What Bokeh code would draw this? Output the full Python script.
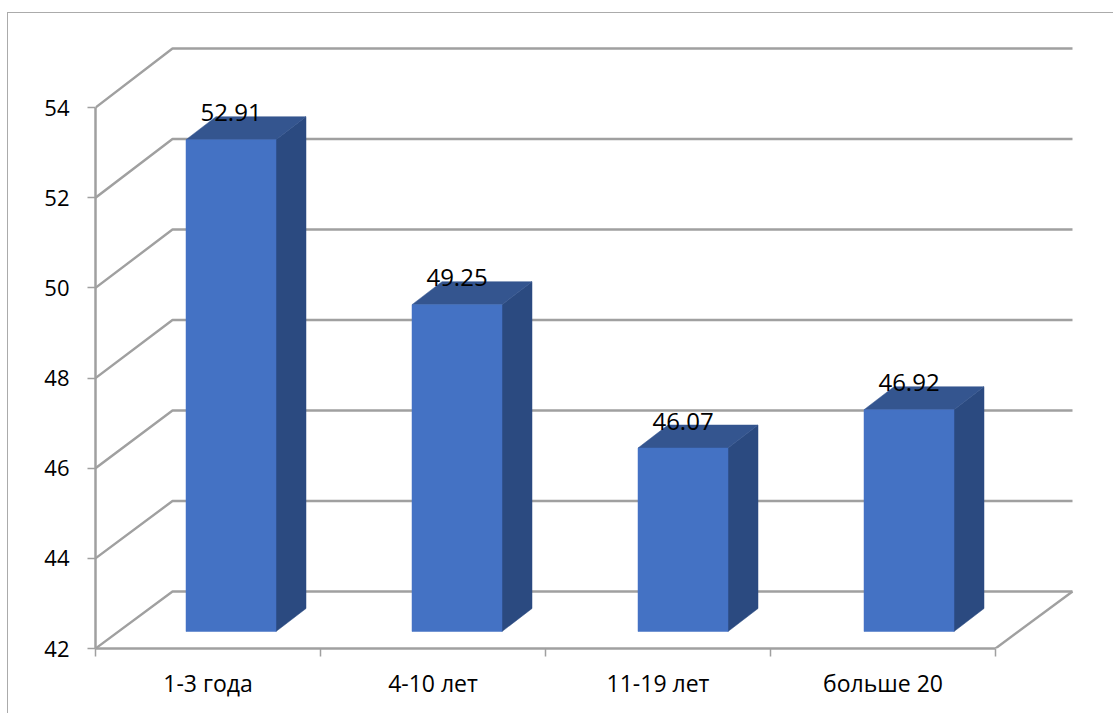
from bokeh.embed import file_html
from bokeh.models import ColumnDataSource, FixedTicker, Range1d
from bokeh.plotting import figure
from bokeh.core.properties import value
from bokeh.resources import INLINE

# Survey values by length-of-service group
categories = ["1-3 года", "4-10 лет", "11-19 лет", "больше 20"]
values = [52.91, 49.25, 46.07, 46.92]
y_ticks = [42, 44, 46, 48, 50, 52, 54]

FONT = "Open Sans"
GRID = "#A0A0A0"
FRONT = "#4472C4"
TOP = "#34558F"
SIDE = "#2B4A80"

# Oblique projection: how far the back wall sits from the front plane
PX_PER_CAT = 225.0
PX_PER_UNIT = 45.08
DEPTH_X = 77 / PX_PER_CAT
DEPTH_Y = 57 / PX_PER_UNIT
WALL_SCALE = 1.0037     # the back wall is drawn very slightly taller than the front plane
BAR_NEAR_Y = 17 / PX_PER_UNIT
BAR_NEAR_X = 23 / PX_PER_CAT
BAR_SHIFT_X = 30 / PX_PER_CAT
BAR_SHIFT_Y = 23 / PX_PER_UNIT
BAR_WIDTH = 90 / PX_PER_CAT
BAR_STEP = 226 / PX_PER_CAT
Y_MIN = y_ticks[0]

WIDTH, HEIGHT = 1113, 713
LEFT, BOTTOM = 95, 65

p = figure(
    width=WIDTH, height=HEIGHT, output_backend="svg", toolbar_location=None,
    x_range=Range1d(0, (WIDTH - LEFT) / PX_PER_CAT),
    y_range=Range1d(Y_MIN, Y_MIN + (HEIGHT - BOTTOM) / PX_PER_UNIT),
    min_border_left=LEFT, min_border_bottom=BOTTOM, min_border_top=0, min_border_right=0,
    outline_line_color=None, background_fill_color="white", border_fill_color="white",
)
p.grid.visible = False

# Chart-area border: only its left and top edges fall inside the page
p.stylesheets = [
    ":host::after{content:'';position:absolute;left:7px;top:12px;right:0;bottom:0;"
    "border-left:1.5px solid #ABABAB;border-top:1.5px solid #ABABAB;pointer-events:none;}"
]

# Gridlines run up the side wall and along the back wall
n = len(categories)
wall_levels = [Y_MIN + DEPTH_Y + (t - Y_MIN) * WALL_SCALE for t in y_ticks]
wall_x = [[0, DEPTH_X, n + DEPTH_X] for _ in y_ticks]
wall_y = [[t, w, w] for t, w in zip(y_ticks, wall_levels)]
p.multi_line(wall_x, wall_y, line_color=GRID, line_width=2.4)
p.line([n, n + DEPTH_X], [Y_MIN, wall_levels[0]], line_color=GRID, line_width=2.4)

# Each bar is a front face, a top face and a right side face
centers = [0.5 + BAR_NEAR_X + i * BAR_STEP for i in range(n)]
lefts = [c - BAR_WIDTH / 2 for c in centers]
rights = [c + BAR_WIDTH / 2 for c in centers]
base = Y_MIN + BAR_NEAR_Y
tops = [v + BAR_NEAR_Y for v in values]

p.patches(
    [[r, r + BAR_SHIFT_X, r + BAR_SHIFT_X, r] for r in rights],
    [[base, base + BAR_SHIFT_Y, t + BAR_SHIFT_Y, t] for t in tops],
    fill_color=SIDE, line_color=SIDE, line_width=0.5,
)
p.patches(
    [[l, l + BAR_SHIFT_X, r + BAR_SHIFT_X, r] for l, r in zip(lefts, rights)],
    [[t, t + BAR_SHIFT_Y, t + BAR_SHIFT_Y, t] for t in tops],
    fill_color=TOP, line_color=TOP, line_width=0.5,
)
p.quad(left=lefts, right=rights, bottom=base, top=tops,
       fill_color=FRONT, line_color=FRONT, line_width=0.5)

labels = ColumnDataSource(dict(
    x=centers, y=tops, text=[f"{v:.2f}" for v in values],
))
p.text(x="x", y="y", text="text", source=labels, text_align="center",
       text_baseline="alphabetic", y_offset=-27, text_color="black",
       text_font=value(FONT), text_font_size="24px")

# Category labels sit on major ticks of zero length; minor ticks mark the boundaries
xa = p.xaxis[0]
xa.ticker = FixedTicker(ticks=[i + 0.5 for i in range(n)], minor_ticks=list(range(n + 1)))
xa.major_label_overrides = {i + 0.5: c for i, c in enumerate(categories)}
xa.bounds = (0, n)
xa.major_tick_out = 0
xa.major_tick_in = 0
xa.minor_tick_out = 8
xa.minor_tick_in = 0
xa.minor_tick_line_color = GRID
xa.minor_tick_line_width = 1.5
xa.axis_line_color = GRID
xa.axis_line_width = 2.5
xa.major_label_text_font = FONT
xa.major_label_text_font_size = "23px"
xa.major_label_text_color = "black"
xa.major_label_standoff = 10

ya = p.yaxis[0]
ya.ticker = FixedTicker(ticks=y_ticks)
ya.bounds = (Y_MIN, y_ticks[-1])
ya.major_tick_out = 8
ya.major_tick_in = 0
ya.minor_tick_out = 0
ya.minor_tick_in = 0
ya.major_tick_line_color = GRID
ya.major_tick_line_width = 1.5
ya.axis_line_color = GRID
ya.axis_line_width = 2.5
ya.major_label_text_font = FONT
ya.major_label_text_font_size = "22px"
ya.major_label_text_color = "black"
ya.major_label_standoff = 18

open("out.html", "w").write(file_html(p, INLINE))
